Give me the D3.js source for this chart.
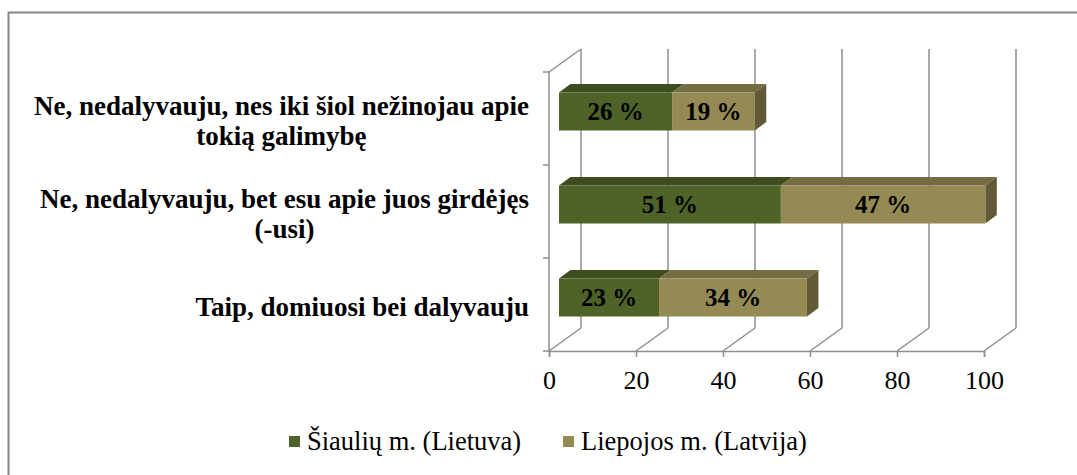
<!DOCTYPE html>
<html>
<head>
<meta charset="utf-8">
<script src="https://d3js.org/d3.v7.min.js"></script>
<style>
  body { margin: 0; background: #fff; }
  text { font-family: "Liberation Serif", "Times New Roman", serif; fill: #000; }
</style>
</head>
<body>
<svg id="chart" width="1077" height="475"></svg>
<script>
// data
var categories = [
  "Ne, nedalyvauju, nes iki šiol nežinojau apie tokią galimybę",
  "Ne, nedalyvauju, bet esu apie juos girdėjęs (-usi)",
  "Taip, domiuosi bei dalyvauju"
];
var seriesNames = ["Šiaulių m. (Lietuva)", "Liepojos m. (Latvija)"];
var siauliai = [26, 51, 23];
var liepoja = [19, 47, 34];
var xTicks = [0, 20, 40, 60, 80, 100];

var frontColors = ["#4f6228", "#948a54"],
    topColors = ["#3e4d1f", "#756c43"],
    sideColors = ["#34411a", "#605a37"];

var svg = d3.select('#chart');

var x = d3.scaleLinear().domain([0, 100]).range([549, 984]),
    y = d3.scaleBand().domain(categories).range([72, 351]).padding(0);

var wallDx = 32, wallDy = -23,   // depth of the 3d box
    barOffX = 10, barOffY = -7,  // bar front plane
    barDx = 11.5, barDy = -8.5,  // bar depth
    barH = 38,
    grid = '#8e8e8e';

// outer frame
svg.append('rect')
  .attr('x', 8.5).attr('y', 12.5)
  .attr('width', 1200).attr('height', 600)
  .attr('fill', 'none').attr('stroke', '#868686').attr('stroke-width', 2);

var floorY = y.range()[1], topY = y.range()[0];

// back wall gridlines + floor diagonals
xTicks.forEach(function(t){
  svg.append('line')
    .attr('x1', x(t) + wallDx).attr('x2', x(t) + wallDx)
    .attr('y1', floorY + wallDy).attr('y2', topY + wallDy)
    .attr('stroke', grid).attr('stroke-width', 1.5);
  svg.append('line')
    .attr('x1', x(t)).attr('y1', floorY)
    .attr('x2', x(t) + wallDx).attr('y2', floorY + wallDy)
    .attr('stroke', grid).attr('stroke-width', 1.5);
});

// left side: front axis line, top diagonal, ticks
svg.append('line')
  .attr('x1', x(0)).attr('x2', x(0)).attr('y1', topY).attr('y2', floorY)
  .attr('stroke', grid).attr('stroke-width', 1.5);
svg.append('line')
  .attr('x1', x(0)).attr('y1', topY)
  .attr('x2', x(0) + wallDx).attr('y2', topY + wallDy)
  .attr('stroke', grid).attr('stroke-width', 1.5);
var bounds = categories.map(function(c){ return y(c); }).concat([floorY]);
bounds.forEach(function(b){
  svg.append('line')
    .attr('x1', x(0) - 6).attr('x2', x(0)).attr('y1', b).attr('y2', b)
    .attr('stroke', grid).attr('stroke-width', 1.5);
});

// bottom axis
var xAxis = svg.append('g')
  .attr('transform', 'translate(0,' + floorY + ')')
  .call(d3.axisBottom(x).tickValues(xTicks).tickSize(6).tickPadding(14));
xAxis.select('.domain').attr('stroke', grid).attr('stroke-width', 1.5);
xAxis.selectAll('.tick line').attr('stroke', grid).attr('stroke-width', 1.5);
xAxis.selectAll('.tick text')
  .attr('font-size', 26).attr('fill', '#000');

// stacked 3d bars
var stackData = categories.map(function(c, i){
  return { cat: c, vals: [siauliai[i], liepoja[i]] };
});

stackData.forEach(function(d){
  var y0 = y(d.cat) + y.bandwidth() / 2 - barH / 2 + barOffY,
      y1 = y0 + barH,
      acc = 0;
  d.vals.forEach(function(v, s){
    var xa = x(acc) + barOffX, xb = x(acc + v) + barOffX;
    acc += v;
    // top face
    svg.append('path')
      .attr('d', 'M' + xa + ',' + y0 + 'L' + (xa + barDx) + ',' + (y0 + barDy) +
        'L' + (xb + barDx) + ',' + (y0 + barDy) + 'L' + xb + ',' + y0 + 'Z')
      .attr('fill', topColors[s]);
    // side face, only at the end
    if (s === d.vals.length - 1) {
      svg.append('path')
        .attr('d', 'M' + xb + ',' + y0 + 'L' + (xb + barDx) + ',' + (y0 + barDy) +
          'L' + (xb + barDx) + ',' + (y1 + barDy) + 'L' + xb + ',' + y1 + 'Z')
        .attr('fill', sideColors[s]);
    }
    svg.append('rect')
      .attr('x', xa).attr('y', y0)
      .attr('width', xb - xa).attr('height', barH)
      .attr('fill', frontColors[s]);
    svg.append('text')
      .attr('x', (xa + xb) / 2).attr('y', (y0 + y1) / 2)
      .attr('dy', '0.35em')
      .attr('text-anchor', 'middle')
      .attr('font-size', 25).attr('font-weight', 'bold')
      .text(v + ' %');
  });
});

// category labels, wrapped
var labelRight = 529, maxW = 505, lineH = 30;
categories.forEach(function(c){
  var words = c.split(' '), lines = [], cur = [];
  var probe = svg.append('text').attr('font-size', 27).attr('font-weight', 'bold');
  words.forEach(function(w){
    probe.text(cur.concat([w]).join(' '));
    if (probe.node().getComputedTextLength() > maxW && cur.length) {
      lines.push(cur.join(' '));
      cur = [w];
    } else {
      cur.push(w);
    }
  });
  lines.push(cur.join(' '));
  var widths = lines.map(function(l){ probe.text(l); return probe.node().getComputedTextLength(); });
  probe.remove();
  var blockW = d3.max(widths),
      cx = labelRight - blockW / 2,
      cy = y(c) + y.bandwidth() / 2 + 2;
  var t = svg.append('text')
    .attr('font-size', 27).attr('font-weight', 'bold')
    .attr('text-anchor', 'middle');
  lines.forEach(function(l, i){
    t.append('tspan')
      .attr('x', cx)
      .attr('y', cy + (i - (lines.length - 1) / 2) * lineH)
      .attr('dy', '0.35em')
      .text(l);
  });
});

// legend
var legendX = [289, 563];
seriesNames.forEach(function(n, i){
  svg.append('rect')
    .attr('x', legendX[i]).attr('y', 436)
    .attr('width', 11).attr('height', 11)
    .attr('fill', frontColors[i]);
  svg.append('text')
    .attr('x', legendX[i] + 18).attr('y', 441)
    .attr('dy', '0.35em')
    .attr('font-size', 26.5)
    .text(n);
});
</script>
</body>
</html>
